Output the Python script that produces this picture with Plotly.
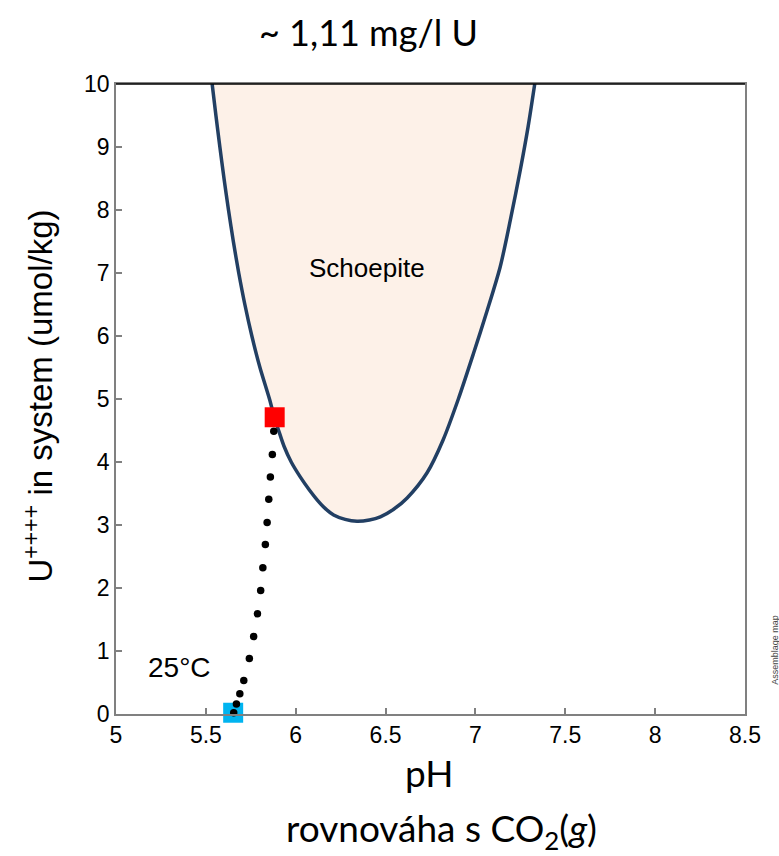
import plotly.graph_objects as go

# Schoepite stability boundary (pH, U umol/kg)
boundary_ph = [5.535, 5.556, 5.578, 5.601, 5.626, 5.653, 5.683, 5.717, 5.756, 5.801,
               5.854, 5.882, 5.905, 5.935, 5.975, 6.026, 6.075, 6.119, 6.165, 6.211,
               6.275, 6.341, 6.410, 6.471, 6.545, 6.620, 6.731, 6.820, 6.905, 6.990,
               7.065, 7.138, 7.195, 7.250, 7.293, 7.330]
boundary_u = [10.0, 9.5, 9.0, 8.5, 8.0, 7.5, 7.0, 6.5, 6.0, 5.5,
              5.0, 4.70, 4.50, 4.25, 4.00, 3.76, 3.56, 3.40, 3.26, 3.16,
              3.09, 3.06, 3.08, 3.13, 3.25, 3.43, 3.83, 4.35, 5.00, 5.73,
              6.40, 7.10, 7.85, 8.64, 9.32, 10.0]

# reaction path (black dots)
path_ph = [5.878, 5.870, 5.859, 5.850, 5.841, 5.831, 5.817, 5.805, 5.787, 5.766,
           5.742, 5.711, 5.689, 5.670, 5.655]
path_u = [4.49, 4.12, 3.76, 3.41, 3.04, 2.69, 2.32, 1.96, 1.59, 1.23,
          0.88, 0.53, 0.32, 0.16, 0.02]

start_point = (5.652, 0.02)
end_point = (5.883, 4.71)

x_ticks = [5, 5.5, 6, 6.5, 7, 7.5, 8, 8.5]
y_ticks = list(range(0, 11))

fig = go.Figure()

fig.add_trace(go.Scatter(x=boundary_ph, y=boundary_u, mode="lines", fill="toself",
                         fillcolor="#FDF1E8", line=dict(width=0, shape="spline", smoothing=0.8),
                         hoverinfo="skip", showlegend=False))
fig.add_trace(go.Scatter(x=boundary_ph, y=boundary_u, mode="lines",
                         line=dict(color="#223F63", width=3.5, shape="spline", smoothing=0.8),
                         showlegend=False))
fig.add_trace(go.Scatter(x=path_ph[:-2], y=path_u[:-2], mode="markers",
                         marker=dict(color="black", size=7.5), showlegend=False,
                         cliponaxis=False))
fig.add_trace(go.Scatter(x=[start_point[0]], y=[start_point[1]], mode="markers",
                         marker=dict(color="#00B4F0", size=20, symbol="square"),
                         showlegend=False, cliponaxis=False))
fig.add_trace(go.Scatter(x=path_ph[-2:], y=path_u[-2:], mode="markers",
                         marker=dict(color="black", size=7.5), showlegend=False,
                         cliponaxis=False))
fig.add_trace(go.Scatter(x=[end_point[0]], y=[end_point[1]], mode="markers",
                         marker=dict(color="#FF0000", size=20, symbol="square"),
                         showlegend=False, cliponaxis=False))

axis_common = dict(showline=True, linecolor="#808080", linewidth=1.5, mirror=True,
                   ticks="inside", ticklen=6, tickcolor="#808080", tickwidth=1.5,
                   showgrid=False, zeroline=False,
                   tickfont=dict(family="Liberation Sans, Arial", size=23, color="black"))

fig.update_xaxes(range=[5, 8.5], tickvals=x_ticks, ticktext=[f"{t:g}" for t in x_ticks],
                 **axis_common)
fig.update_yaxes(range=[0, 10], tickvals=y_ticks, ticktext=[str(t) for t in y_ticks],
                 **axis_common)

calibri_like = "Lato, Open Sans"

fig.update_layout(
    width=779, height=856,
    margin=dict(l=115.5, r=34.3, t=84.3, b=141.7),
    plot_bgcolor="white", paper_bgcolor="white",
    shapes=[dict(type="line", xref="paper", yref="paper", x0=0, x1=1, y0=1, y1=1,
                 line=dict(color="black", width=1.5))],
    annotations=[
        dict(text="~ 1,11 mg/l U", xref="paper", yref="paper", x=0.401, y=1,
             yanchor="middle", yshift=52, showarrow=False,
             font=dict(family=calibri_like, size=36, color="black")),
        dict(text="pH", xref="paper", yref="paper", x=0.497, y=0,
             yanchor="middle", yshift=-58, showarrow=False,
             font=dict(family=calibri_like, size=37, color="black")),
        dict(text="rovnováha s CO<sub>2</sub>(<i>g</i>)", xref="paper", yref="paper",
             x=0.518, y=0, yanchor="middle", yshift=-116, showarrow=False,
             font=dict(family=calibri_like, size=37, color="black")),
        dict(text="U<sup>++++</sup> in system (umol/kg)", xref="paper", yref="paper",
             x=0, y=0.504, xanchor="center", xshift=-77, textangle=-90, showarrow=False,
             font=dict(family="Liberation Sans, Arial", size=33, color="black")),
        dict(text="Schoepite", x=6.399, y=7.08, showarrow=False,
             font=dict(family="Liberation Sans, Arial", size=26, color="black")),
        dict(text="25°C", x=5.353, y=0.735, showarrow=False,
             font=dict(family="Liberation Sans, Arial", size=28, color="black")),
        dict(text="Assemblage map", xref="paper", yref="paper", x=1, y=0.102,
             xanchor="center", xshift=30, yanchor="middle",
             textangle=-90, showarrow=False,
             font=dict(family="Liberation Sans, Arial", size=9, color="#444444")),
    ],
)

fig.write_html("out.html")
